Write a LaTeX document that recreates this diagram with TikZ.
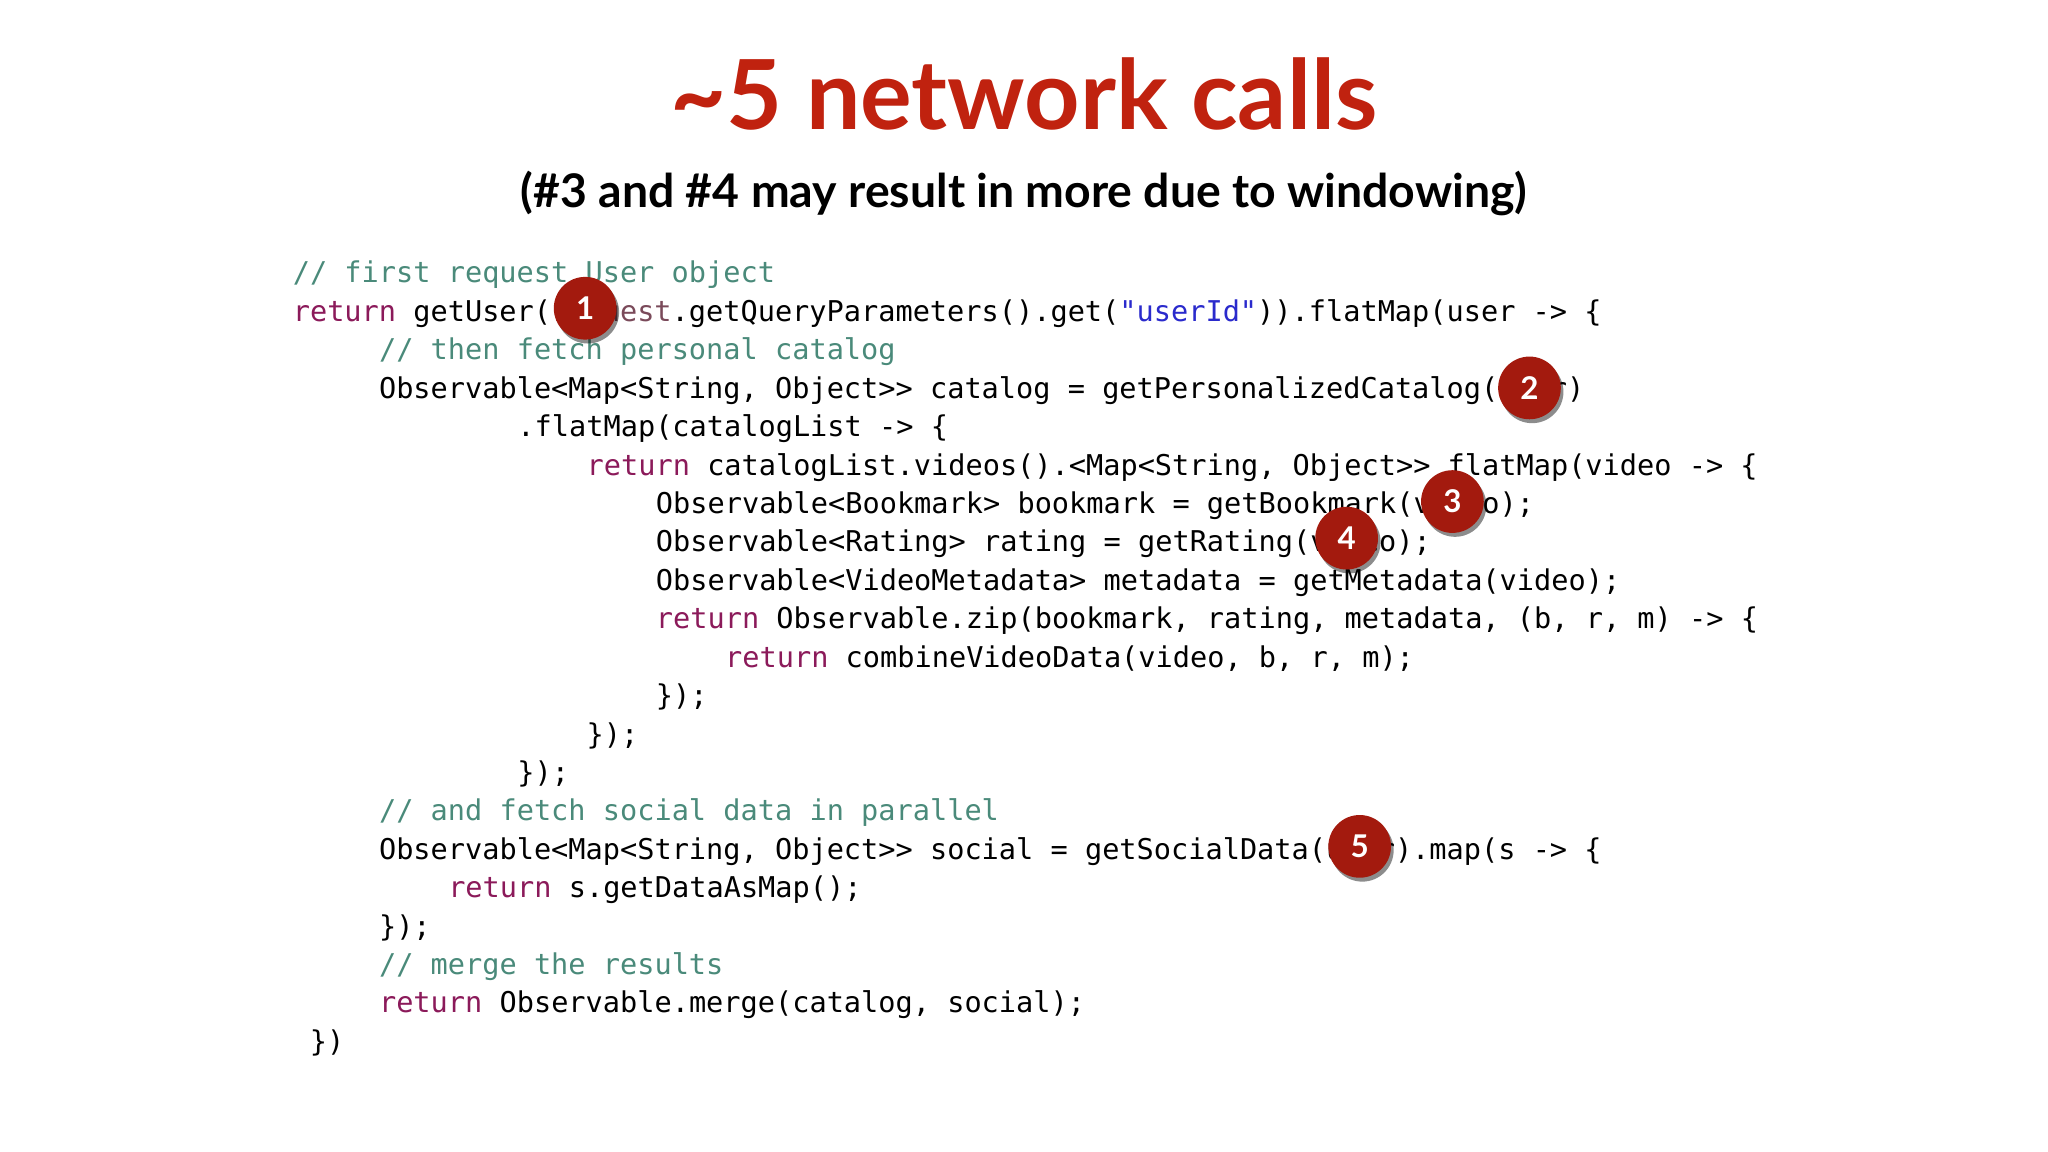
\documentclass[tikz,border=0pt]{standalone}
\usepackage{fontspec}
\setmainfont{Lato}
\setmonofont{DejaVu Sans Mono}
\usetikzlibrary{shadows}
\definecolor{ttl}{HTML}{C0220F}
\definecolor{cmt}{HTML}{4A8A7A}
\definecolor{kwc}{HTML}{8B1A5A}
\definecolor{strc}{HTML}{2A2ACC}
\definecolor{varc}{HTML}{7A4A5A}
\definecolor{badge}{HTML}{A31A0E}
\newcommand{\kw}[1]{\textcolor{kwc}{#1}}
\newcommand{\cm}[1]{\textcolor{cmt}{#1}}
\newcommand{\cstr}[1]{\textcolor{strc}{#1}}
\newcommand{\vr}[1]{\textcolor{varc}{#1}}
\begin{document}
\begin{tikzpicture}[x=1pt,y=-1pt,
  code/.style={anchor=base west,inner sep=0pt,font=\fontsize{21.9}{24}\ttfamily},
  badge/.style={circle,fill=badge,minimum size=48pt,inner sep=0pt,text=white,font=\fontsize{24}{26}\bfseries,
    drop shadow={shadow xshift=2pt,shadow yshift=-3pt,opacity=0.45,fill=black}}]
\useasboundingbox (0,0) rectangle (1568,882);
\node[text=ttl,font=\fontsize{74}{80}\bfseries] (title) at (784,72) {\char`~5 network calls};
\node[font=\fontsize{35.5}{40}\bfseries] (sub) at (784,148) {(\#3 and \#4 may result in more due to windowing)};
\node[code] (l1) at (224,216) {\cm{// first request User object}};
\node[code] (l2) at (224,246) {\kw{return} getUser(\vr{request}.getQueryParameters().get(\cstr{"userId"})).flatMap(user -> \{};
\node[code] (l3) at (290,275) {\cm{// then fetch personal catalog}};
\node[code] (l4) at (290,305) {Observable<Map<String, Object>{}> catalog = getPersonalizedCatalog(user)};
\node[code] (l5) at (396,334) {.flatMap(catalogList -> \{};
\node[code] (l6) at (449,364) {\kw{return} catalogList.videos().<Map<String, Object>{}> flatMap(video -> \{};
\node[code] (l7) at (502,393) {Observable<Bookmark> bookmark = getBookmark(video);};
\node[code] (l8) at (502,422) {Observable<Rating> rating = getRating(video);};
\node[code] (l9) at (502,452) {Observable<VideoMetadata> metadata = getMetadata(video);};
\node[code] (l10) at (502,481) {\kw{return} Observable.zip(bookmark, rating, metadata, (b, r, m) -> \{};
\node[code] (l11) at (555,511) {\kw{return} combineVideoData(video, b, r, m);};
\node[code] (l12) at (502,540) {\});};
\node[code] (l13) at (449,570) {\});};
\node[code] (l14) at (396,599) {\});};
\node[code] (l15) at (290,628) {\cm{// and fetch social data in parallel}};
\node[code] (l16) at (290,658) {Observable<Map<String, Object>{}> social = getSocialData(user).map(s -> \{};
\node[code] (l17) at (343,687) {\kw{return} s.getDataAsMap();};
\node[code] (l18) at (290,717) {\});};
\node[code] (l19) at (290,746) {\cm{// merge the results}};
\node[code] (l20) at (290,775) {\kw{return} Observable.merge(catalog, social);};
\node[code] (l21) at (237,805) {\})};
\node[badge] (b1) at (448,236) {1};
\node[badge] (b2) at (1171,297) {2};
\node[badge] (b3) at (1112,384) {3};
\node[badge] (b4) at (1031,412) {4};
\node[badge] (b5) at (1041,648) {5};
\end{tikzpicture}
\end{document}
